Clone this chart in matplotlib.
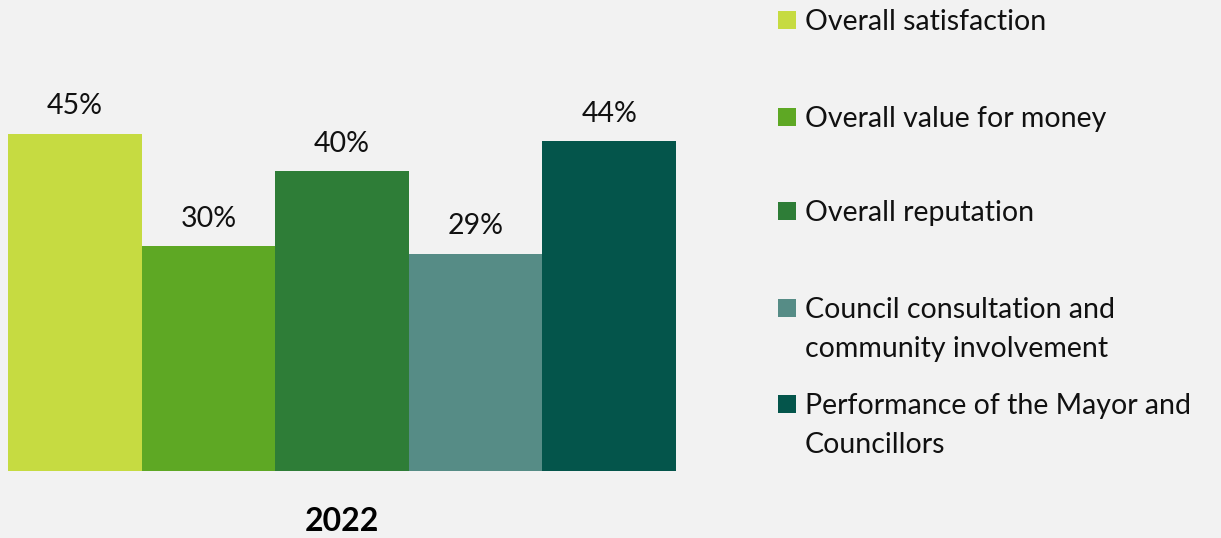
import matplotlib as mpl
import matplotlib.pyplot as plt
from matplotlib.patches import Rectangle

mpl.rcParams.update({
    "font.family": ["Lato", "DejaVu Sans"],
    "figure.dpi": 100,
    "savefig.dpi": 100,
})

# data
categories = [
    "Overall satisfaction",
    "Overall value for money",
    "Overall reputation",
    "Council consultation and\ncommunity involvement",
    "Performance of the Mayor and\nCouncillors",
]
values = [45, 30, 40, 29, 44]
year_label = "2022"

COLORS = ["#c6db41", "#5ea824", "#2e7d37", "#568c86", "#04554b"]
BG = "#f2f2f2"
TXT = "#111111"

W, H = 1221, 538
fig = plt.figure(figsize=(W / 100, H / 100), facecolor=BG)

# axes: bars span x 8..676 px, baseline at y 471 px
ymax = 50
left, right, bottom = 8, 676, 471
top = bottom - ymax * 7.5
ax = fig.add_axes([left / W, 1 - bottom / H, (right - left) / W, (bottom - top) / H])
ax.set_facecolor(BG)

x = range(len(values))
bars = ax.bar(x, values, width=1.0, color=COLORS, linewidth=0)
ax.set_xlim(-0.5, len(values) - 0.5)
ax.set_ylim(0, ymax)

for i, v in enumerate(values):
    ax.annotate(f"{v}%", (i, v), xytext=(0, 19), textcoords="offset pixels",
                ha="center", va="baseline", fontsize=20.5, color=TXT,
                annotation_clip=False)

for s in ax.spines.values():
    s.set_visible(False)
ax.set_xticks([])
ax.set_yticks([])

fig.text((left + right) / 2 / W, 1 - 531 / H, year_label, ha="center",
         va="baseline", fontsize=23, fontweight="bold", color="#000000")

# legend drawn by hand
centers = [20, 117, 211, 308, 404]
for lab, col, yc in zip(categories, COLORS, centers):
    fig.patches.append(Rectangle((778 / W, 1 - (yc + 9) / H), 18 / W, 18 / H,
                                 transform=fig.transFigure, color=col, linewidth=0))
    for k, line in enumerate(lab.split("\n")):
        fig.text(805 / W, 1 - (yc + 10 + 39 * k) / H, line, ha="left",
                 va="baseline", fontsize=20.5, color=TXT)

fig.savefig("out.png", facecolor=BG)
